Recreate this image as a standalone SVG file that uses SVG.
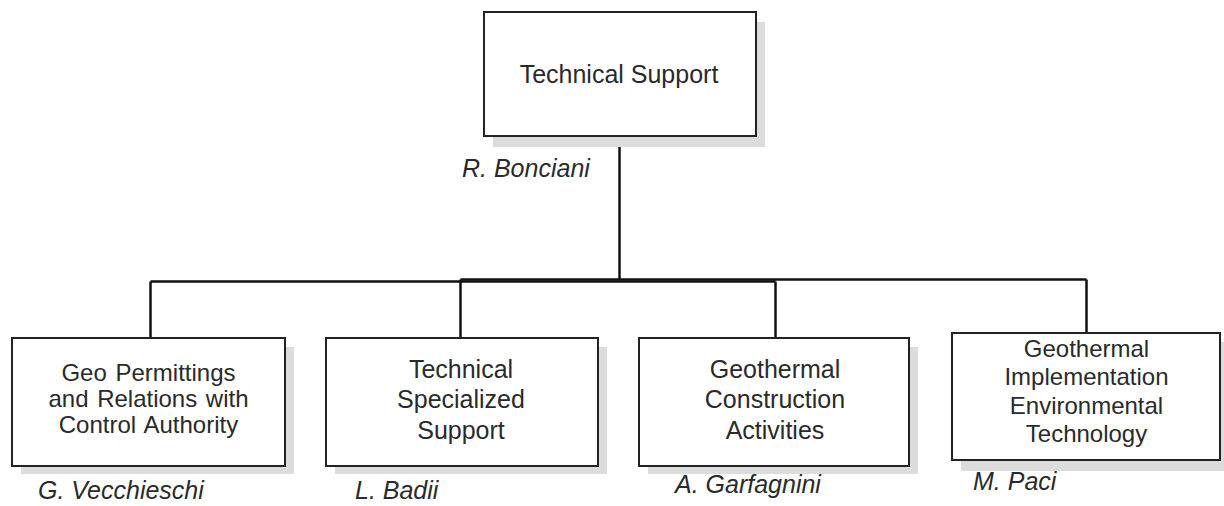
<svg xmlns="http://www.w3.org/2000/svg" width="1224" height="506" viewBox="0 0 1224 506">
  <style>
    .shadow { fill: #dcdcdc; }
    .box { fill: #ffffff; stroke: #222222; stroke-width: 2; }
    .wire { fill: none; stroke: #111111; stroke-width: 2.5; }
    .label { font-family: "Liberation Sans", Arial, sans-serif; font-size: 25px; fill: #2a2a2a; text-anchor: middle; }
    .name { font-family: "Liberation Sans", Arial, sans-serif; font-size: 25px; font-style: italic; fill: #2a2a2a; }
  </style>

  <rect width="1224" height="506" fill="#ffffff"/>

  <!-- connectors -->
  <g id="connectors">
    <path class="wire" d="M619.5 136 V280"/>
    <path class="wire" d="M150.5 281.5 H775.5"/>
    <path class="wire" d="M460.5 279.5 H1086.5"/>
    <path class="wire" d="M150.5 281.5 V338"/>
    <path class="wire" d="M460.5 279.5 V338"/>
    <path class="wire" d="M775.5 281.5 V338"/>
    <path class="wire" d="M1086.5 279.5 V333"/>
  </g>

  <!-- head of unit -->
  <g id="technical-support">
    <rect class="shadow" x="493" y="22" width="272" height="125"/>
    <rect class="box" x="484" y="12" width="272" height="124"/>
    <text class="label" x="619" y="83">Technical Support</text>
    <text class="name" x="462" y="177">R. Bonciani</text>
  </g>

  <g id="geo-permittings">
    <rect class="shadow" x="21" y="347" width="273" height="127"/>
    <rect class="box" x="12" y="338" width="273" height="128"/>
    <text class="label" x="148.5" y="381" style="font-size:24px;word-spacing:2px">Geo Permittings<tspan x="148.5" dy="26">and Relations with</tspan><tspan x="148.5" dy="26">Control Authority</tspan></text>
    <text class="name" x="38" y="499">G. Vecchieschi</text>
  </g>

  <g id="technical-specialized-support">
    <rect class="shadow" x="335" y="347" width="272" height="127"/>
    <rect class="box" x="326" y="338" width="272" height="128"/>
    <text class="label" x="461" y="378">Technical<tspan x="461" dy="30">Specialized</tspan><tspan x="461" dy="31">Support</tspan></text>
    <text class="name" x="355" y="499">L. Badii</text>
  </g>

  <g id="geothermal-construction">
    <rect class="shadow" x="648" y="347" width="270" height="127"/>
    <rect class="box" x="639" y="338" width="270" height="128"/>
    <text class="label" x="775" y="378">Geothermal<tspan x="775" dy="30">Construction</tspan><tspan x="775" dy="31">Activities</tspan></text>
    <text class="name" x="675" y="493">A. Garfagnini</text>
  </g>

  <g id="geothermal-implementation">
    <rect class="shadow" x="961" y="342" width="268" height="129"/>
    <rect class="box" x="952" y="333" width="268" height="127"/>
    <text class="label" x="1086.5" y="357" style="font-size:24px">Geothermal<tspan x="1086.5" dy="28">Implementation</tspan><tspan x="1086.5" dy="28.5">Environmental</tspan><tspan x="1086.5" dy="28.5">Technology</tspan></text>
    <text class="name" x="973" y="490">M. Paci</text>
  </g>
</svg>
